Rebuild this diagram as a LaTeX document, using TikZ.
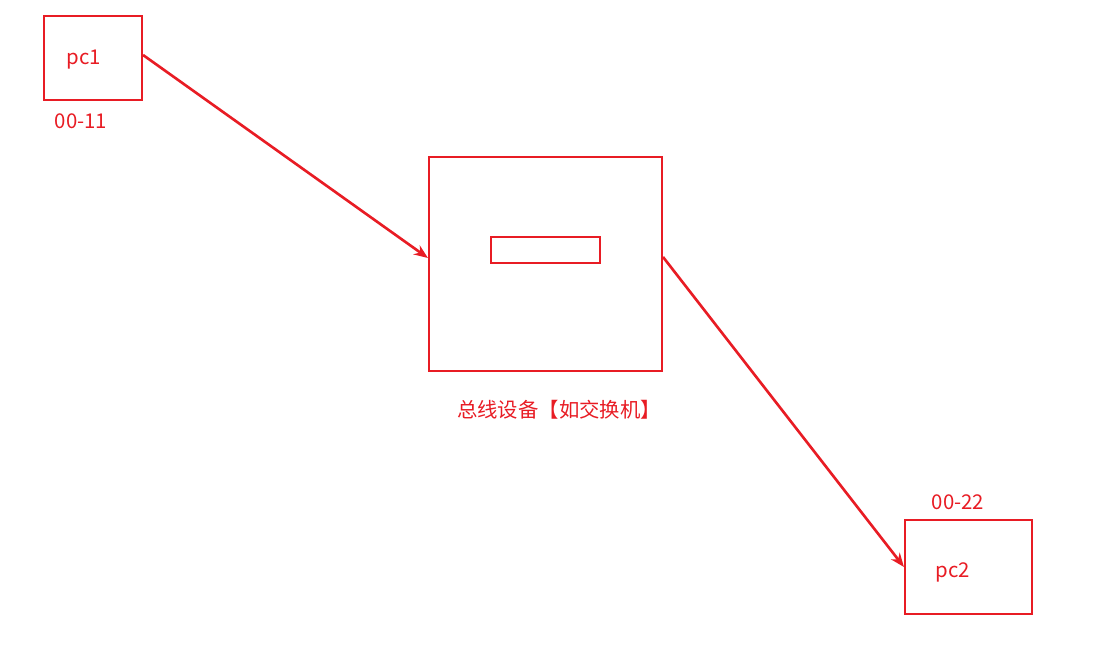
\documentclass[tikz,border=0pt]{standalone}
\usepackage{fontspec}
\setmainfont{Noto Sans CJK SC}
\usetikzlibrary{arrows.meta,positioning}
\definecolor{busRed}{HTML}{E81C24}
\tikzset{
  pcbox/.style={draw=busRed, line width=1.2pt, inner sep=0pt},
  tag/.style={text=busRed, font=\fontsize{11.6}{13}\selectfont, inner sep=0pt},
  flow/.style={-{Stealth[length=2.8mm, width=2.2mm]}, line width=1.5pt, busRed}
}
\begin{document}
\begin{tikzpicture}[x=0.02cm, y=-0.02cm]
  \useasboundingbox (0,0) rectangle (1103,648);
  % hosts and bus device
  \node[pcbox, minimum width=1.96cm, minimum height=1.68cm] (pc1) at (93,58) {};
  \node[tag] (pc1txt) at (84,59.5) {pc1};
  \node[tag] (mac1) at (81,121) {00-11};
  \node[pcbox, minimum width=4.66cm, minimum height=4.28cm] (bus) at (545.5,264) {};
  \node[pcbox, minimum width=2.18cm, minimum height=0.52cm] (port) at (545.5,250) {};
  \node[tag] (buslabel) at (559,410) {总线设备【如交换机】};
  \node[pcbox, minimum width=2.54cm, minimum height=1.88cm] (pc2) at (968.5,567) {};
  \node[tag] (pc2txt) at (953,572.5) {pc2};
  \node[tag] (mac2) at (958,502) {00-22};
  % frames
  \draw[flow] ([yshift=0.06cm]pc1.east) -- ([yshift=0.12cm]bus.west);
  \draw[flow] ([yshift=0.14cm]bus.east) -- (pc2.west);
\end{tikzpicture}
\end{document}
